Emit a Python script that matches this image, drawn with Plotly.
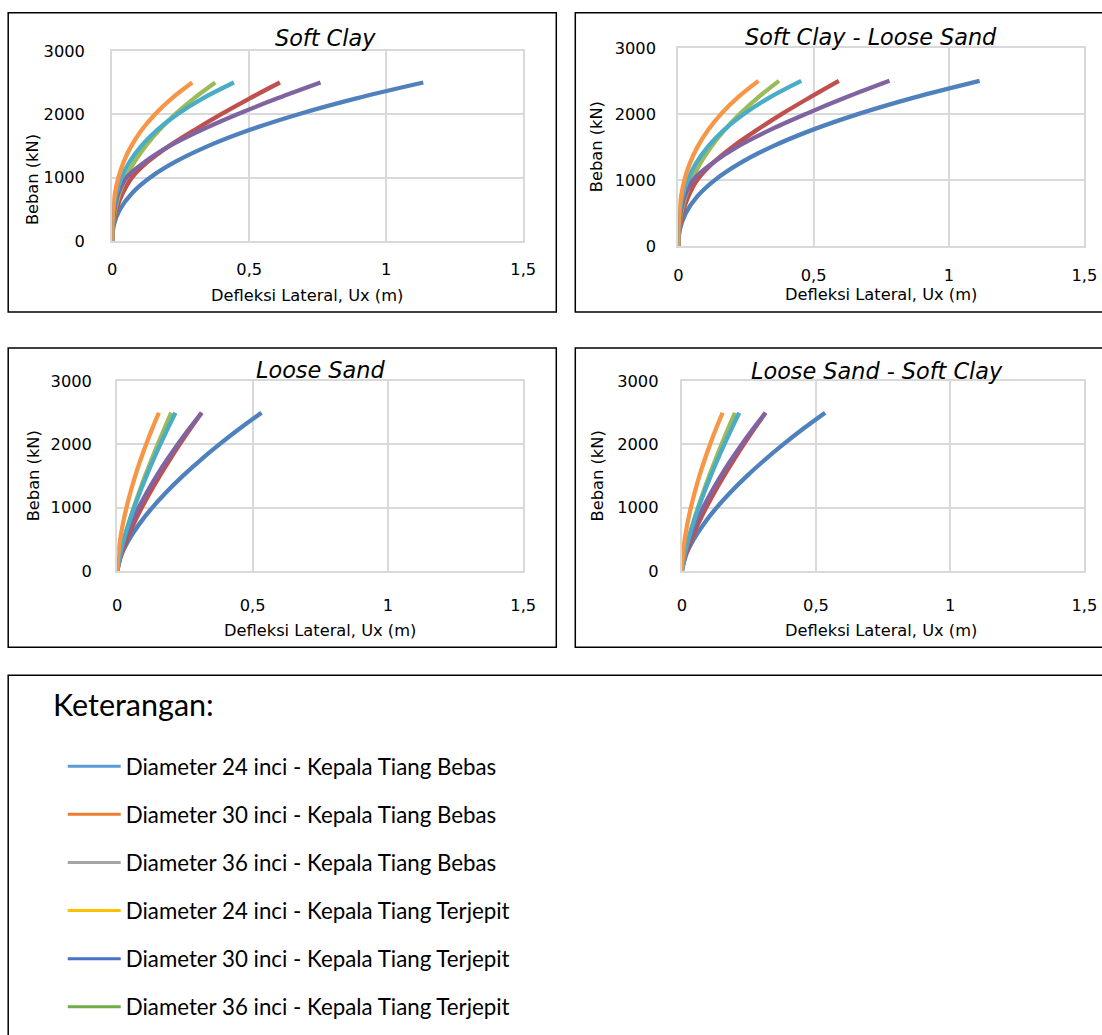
import plotly.graph_objects as go

# ---------------- data ----------------
LOAD = [0, 250, 500, 750, 1000, 1250, 1500, 1750, 2000, 2250, 2500]

X_TICKS = [0, 0.5, 1, 1.5]
X_TICK_TEXT = ["0", "0,5", "1", "1,5"]
Y_TICKS = [0, 1000, 2000, 3000]

PANEL_TITLES = ["Soft Clay", "Soft Clay - Loose Sand", "Loose Sand", "Loose Sand - Soft Clay"]
X_TITLE = "Defleksi Lateral, Ux (m)"
Y_TITLE = "Beban (kN)"
LEGEND_TITLE = "Keterangan:"

# Soft Clay
SC_BLUE = [0, 0.0058, 0.0284, 0.0716, 0.1385, 0.231, 0.351, 0.500, 0.680, 0.891, 1.135]
SC_RED = [0, 0.004, 0.016, 0.038, 0.072, 0.130, 0.208, 0.300, 0.398, 0.502, 0.612]
SC_GREEN = [0, 0.0024, 0.0109, 0.0266, 0.0501, 0.0818, 0.1222, 0.1716, 0.2301, 0.2982, 0.376]
SC_PURPLE = [0, 0.002, 0.008, 0.022, 0.052, 0.120, 0.210, 0.325, 0.457, 0.603, 0.760]
SC_TEAL = [0, 0.0007, 0.0049, 0.0153, 0.0341, 0.0638, 0.1063, 0.1635, 0.2377, 0.3306, 0.444]
SC_ORANGE = [0, 0.0005, 0.0032, 0.0100, 0.0225, 0.0419, 0.0699, 0.1075, 0.1563, 0.2174, 0.292]

# Soft Clay - Loose Sand
SCLS_BLUE = [0, 0.0057, 0.0278, 0.0702, 0.1358, 0.2265, 0.3442, 0.4903, 0.6664, 0.8735, 1.113]
SCLS_RED = [0, 0.004, 0.016, 0.037, 0.070, 0.126, 0.200, 0.288, 0.383, 0.486, 0.593]
SCLS_GREEN = [0, 0.0023, 0.0108, 0.0263, 0.0496, 0.0809, 0.1209, 0.1697, 0.2277, 0.295, 0.372]
SCLS_PURPLE = [0, 0.002, 0.008, 0.023, 0.055, 0.125, 0.217, 0.335, 0.472, 0.620, 0.780]
SCLS_TEAL = [0, 0.0007, 0.0050, 0.0156, 0.0349, 0.0652, 0.1087, 0.1672, 0.2431, 0.338, 0.454]
SCLS_ORANGE = [0, 0.0005, 0.0033, 0.0102, 0.0228, 0.0425, 0.0708, 0.109, 0.158, 0.220, 0.296]

# Loose Sand
LS_BLUE = [0, 0.015, 0.044, 0.0825, 0.1288, 0.182, 0.2415, 0.3066, 0.3772, 0.4527, 0.533]
LS_RED = [0, 0.0139, 0.0355, 0.0614, 0.0905, 0.1224, 0.1566, 0.1928, 0.2309, 0.2706, 0.312]
LS_GREEN = [0, 0.010, 0.0247, 0.0418, 0.0608, 0.0812, 0.103, 0.1258, 0.1497, 0.1744, 0.200]
LS_PURPLE = [0, 0.0099, 0.0279, 0.0513, 0.0789, 0.1103, 0.145, 0.1827, 0.2232, 0.2664, 0.312]
LS_TEAL = [0, 0.0096, 0.0245, 0.0423, 0.0624, 0.0843, 0.1079, 0.1328, 0.1591, 0.1865, 0.215]
LS_ORANGE = [0, 0.0034, 0.0108, 0.0211, 0.034, 0.0491, 0.0663, 0.0855, 0.1066, 0.1294, 0.154]

# Loose Sand - Soft Clay
LSSC_BLUE = [0, 0.0151, 0.0441, 0.0826, 0.129, 0.1824, 0.242, 0.3072, 0.3779, 0.4535, 0.534]
LSSC_RED = [0, 0.0139, 0.0355, 0.0614, 0.0905, 0.1224, 0.1566, 0.1928, 0.2309, 0.2706, 0.312]
LSSC_GREEN = [0, 0.0099, 0.0244, 0.0414, 0.0602, 0.0804, 0.1019, 0.1245, 0.1482, 0.1727, 0.198]
LSSC_PURPLE = [0, 0.0099, 0.0279, 0.0513, 0.0789, 0.1103, 0.145, 0.1827, 0.2232, 0.2664, 0.312]
LSSC_TEAL = [0, 0.0096, 0.0244, 0.0421, 0.0621, 0.084, 0.1074, 0.1322, 0.1584, 0.1856, 0.214]
LSSC_ORANGE = [0, 0.0034, 0.0107, 0.0209, 0.0335, 0.0484, 0.0654, 0.0844, 0.1052, 0.1277, 0.152]

LEGEND_LABELS = [
    "Diameter 24 inci - Kepala Tiang Bebas",
    "Diameter 30 inci - Kepala Tiang Bebas",
    "Diameter 36 inci - Kepala Tiang Bebas",
    "Diameter 24 inci - Kepala Tiang Terjepit",
    "Diameter 30 inci - Kepala Tiang Terjepit",
    "Diameter 36 inci - Kepala Tiang Terjepit",
]

# ---------------- styles ----------------
CURVE_COLORS = {"blue": "#4F81BD", "red": "#C0504D", "green": "#9BBB59",
                "purple": "#8064A2", "teal": "#4BACC6", "orange": "#F79646"}
LEGEND_COLORS = ["#5B9BD5", "#ED7D31", "#A5A5A5", "#FFC000", "#4472C4", "#70AD47"]

PANELS = [
    [("blue", SC_BLUE), ("red", SC_RED), ("green", SC_GREEN), ("purple", SC_PURPLE), ("teal", SC_TEAL), ("orange", SC_ORANGE)],
    [("blue", SCLS_BLUE), ("red", SCLS_RED), ("green", SCLS_GREEN), ("purple", SCLS_PURPLE), ("teal", SCLS_TEAL), ("orange", SCLS_ORANGE)],
    [("blue", LS_BLUE), ("red", LS_RED), ("green", LS_GREEN), ("purple", LS_PURPLE), ("teal", LS_TEAL), ("orange", LS_ORANGE)],
    [("blue", LSSC_BLUE), ("red", LSSC_RED), ("green", LSSC_GREEN), ("purple", LSSC_PURPLE), ("teal", LSSC_TEAL), ("orange", LSSC_ORANGE)],
]

W, H = 1102, 1035
# the page is photographed slightly reduced and offset; layout positions below are
# given in picture pixels and mapped back to figure pixels here
OX, OY, SX, SY = 4.8, 8.2, 0.9835, 0.981


def px(x):
    return ((x - OX) / SX) / W


def py(y):
    return 1 - ((y - OY) / SY) / H


FS = 1 / SX  # font compensation

# plot-area pixel boxes (left, right, top, bottom), picture pixels
AREAS = [(112, 523, 50, 240), (678, 1084, 47, 245), (117, 523, 380, 570), (681.5, 1084, 380, 570)]
BOXES = [(8, 556, 12, 311), (575, 1125, 12, 311), (8, 556, 347, 646), (575, 1125, 347, 646)]
TITLE_POS = [(325, 37), (871, 36), (320, 369), (877, 370)]
XT_POS = [(307, 295), (881, 294), (320, 629), (881, 629)]
YT_POS = [(33, 179), (597, 146), (33, 475), (597, 475)]
X_STANDOFF = [13, 14, 18, 18]
Y_STANDOFF = [22, 17, 20, 18]

TXT = "DejaVu Sans"

fig = go.Figure()

for i, series in enumerate(PANELS):
    ax = "" if i == 0 else str(i + 1)
    for cname, defl in series:
        fig.add_trace(go.Scatter(
            x=defl, y=LOAD, mode="lines",
            line=dict(color=CURVE_COLORS[cname], width=4.3, shape="spline", smoothing=1.0),
            xaxis="x" + ax, yaxis="y" + ax, showlegend=False, hoverinfo="skip"))

for lab, col in zip(LEGEND_LABELS, LEGEND_COLORS):
    fig.add_trace(go.Scatter(x=[None], y=[None], mode="lines", name=lab, legendgroup=lab,
                             line=dict(color=col, width=3), xaxis="x", yaxis="y"))

layout = dict(
    width=W, height=H, margin=dict(l=0, r=0, t=0, b=0),
    paper_bgcolor="white", plot_bgcolor="white",
    separators=",.",
    showlegend=True,
    legend=dict(
        x=px(62.5), y=py(744), xanchor="left", yanchor="top",
        font=dict(family="Lato", size=22.3, color="#000000"),
        tracegroupgap=16.1, itemwidth=53, bgcolor="rgba(0,0,0,0)",
    ),
    shapes=[], annotations=[],
)

for i in range(4):
    l, r, t, b = AREAS[i]
    sx = "xaxis" if i == 0 else "xaxis%d" % (i + 1)
    sy = "yaxis" if i == 0 else "yaxis%d" % (i + 1)
    ax = "x" if i == 0 else "x%d" % (i + 1)
    ay = "y" if i == 0 else "y%d" % (i + 1)
    layout[sx] = dict(domain=[px(l), px(r)], range=[0, 1.5], anchor=ay,
                      tickvals=X_TICKS, ticktext=X_TICK_TEXT,
                      showgrid=True, gridcolor="#D9D9D9", gridwidth=2,
                      showline=True, linecolor="#D9D9D9", linewidth=2, mirror=True,
                      zeroline=False, ticks="", ticklabelstandoff=X_STANDOFF[i],
                      tickfont=dict(family=TXT, size=16 * FS, color="#000000"), fixedrange=True)
    layout[sy] = dict(domain=[py(b), py(t)], range=[0, 3000], anchor=ax,
                      tickvals=Y_TICKS,
                      showgrid=True, gridcolor="#D9D9D9", gridwidth=2,
                      showline=True, linecolor="#D9D9D9", linewidth=2, mirror=True,
                      zeroline=False, ticks="", ticklabelstandoff=Y_STANDOFF[i],
                      tickfont=dict(family=TXT, size=16 * FS, color="#000000"), fixedrange=True)
    bl, br, bt, bb = BOXES[i]
    layout["shapes"].append(dict(type="rect", xref="paper", yref="paper",
                                 x0=px(bl), x1=px(br), y0=py(bb), y1=py(bt),
                                 line=dict(color="#000000", width=1.5), layer="below"))
    tx, ty = TITLE_POS[i]
    layout["annotations"].append(dict(text="<i>%s</i>" % PANEL_TITLES[i], xref="paper", yref="paper",
                                      x=px(tx), y=py(ty), showarrow=False, xanchor="center", yanchor="middle",
                                      font=dict(family=TXT, size=22 * FS, color="#000000")))
    xx, xy = XT_POS[i]
    layout["annotations"].append(dict(text=X_TITLE, xref="paper", yref="paper",
                                      x=px(xx), y=py(xy), showarrow=False, xanchor="center", yanchor="middle",
                                      font=dict(family=TXT, size=16 * FS, color="#000000")))
    yx, yy = YT_POS[i]
    layout["annotations"].append(dict(text=Y_TITLE, xref="paper", yref="paper", textangle=-90,
                                      x=px(yx), y=py(yy), showarrow=False, xanchor="center", yanchor="middle",
                                      font=dict(family=TXT, size=16 * FS, color="#000000")))

# legend frame (open at the bottom edge of the picture) and heading
LEG_L, LEG_R, LEG_T, LEG_B = 8, 1125, 674, 1060
layout["shapes"].append(dict(type="path", xref="paper", yref="paper",
                             path="M %f,%f L %f,%f L %f,%f L %f,%f" % (
                                 px(LEG_L), py(LEG_B), px(LEG_L), py(LEG_T),
                                 px(LEG_R), py(LEG_T), px(LEG_R), py(LEG_B)),
                             line=dict(color="#000000", width=1.5), layer="below"))
layout["annotations"].append(dict(text=LEGEND_TITLE, xref="paper", yref="paper",
                                  x=px(51), y=py(703), showarrow=False, xanchor="left", yanchor="middle",
                                  font=dict(family="Lato", size=30 * FS, color="#000000")))

fig.update_layout(**layout)
fig.write_html("out.html", config={"displayModeBar": False},
               post_script="document.documentElement.style.overflow='hidden';"
                           "document.body.style.margin='0';document.body.style.overflow='hidden';")
